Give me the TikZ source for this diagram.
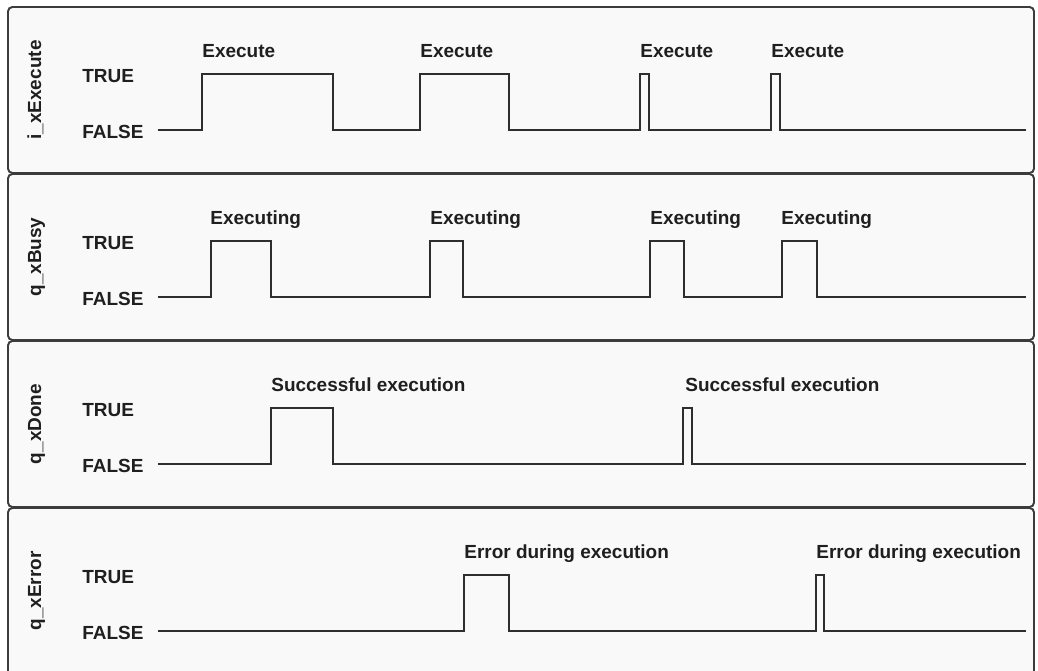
\documentclass[tikz,border=0pt]{standalone}
\usepackage{fontspec}
\setmainfont{Liberation Sans}
\usetikzlibrary{positioning}

\definecolor{frame}{HTML}{3C3C3C}
\definecolor{wave}{HTML}{2E2E2E}
\definecolor{panelbg}{HTML}{F9F9F9}

\tikzset{
  panel/.style={draw=frame,fill=panelbg,line width=1.1pt,rounded corners=2.5pt},
  sig/.style={draw=wave,line width=1.1pt},
  txt/.style={font=\bfseries\fontsize{10.8}{13}\selectfont,text=black!88,inner sep=0pt,anchor=base west},
  signame/.style={txt,rotate=90,anchor=base}
}

\begin{document}
\begin{tikzpicture}[x=0.02cm,y=-0.02cm]
  \useasboundingbox (0,0) rectangle (1038,670);
  \clip (0,0) rectangle (1038,670);

  % panels
  \draw[panel] (8,7) rectangle (1034,173);
  \draw[panel] (8,174) rectangle (1034,340);
  \draw[panel] (8,341) rectangle (1034,507);
  \draw[panel] (8,508) rectangle (1034,690);

  % signal names
  \node[signame] (nExec) at (41,90) {i\_xExecute};
  \node[signame] (nBusy) at (41,257) {q\_xBusy};
  \node[signame] (nDone) at (41,424) {q\_xDone};
  \node[signame] (nErr) at (41,591) {q\_xError};

  % levels
  \foreach \t/\k in {0/a,167/b,334/c,501/d}{
    \node[txt] (true\k) at (82,82+\t) {TRUE};
    \node[txt] (false\k) at (82,138+\t) {FALSE};
  }

  % i_xExecute
  \draw[sig] (158,130) \foreach \r/\f in {202/333,420/509,640/649,771/780}
    { -- (\r,130) -- (\r,74) -- (\f,74) -- (\f,130) } -- (1026,130);
  \foreach \r/\k in {202/1,420/2,640/3,771/4}
    \node[txt] (exec\k) at (\r,57) {Execute};

  % q_xBusy
  \draw[sig] (158,297) \foreach \r/\f in {211/271,430/463,650/684,782/817}
    { -- (\r,297) -- (\r,241) -- (\f,241) -- (\f,297) } -- (1026,297);
  \foreach \r/\k in {210/1,430/2,650/3,781/4}
    \node[txt] (busy\k) at (\r,224) {Executing};

  % q_xDone
  \draw[sig] (158,464) \foreach \r/\f in {271/333,683/692}
    { -- (\r,464) -- (\r,408) -- (\f,408) -- (\f,464) } -- (1026,464);
  \foreach \r/\k in {271/1,685/2}
    \node[txt] (done\k) at (\r,391) {Successful execution};

  % q_xError
  \draw[sig] (158,631) \foreach \r/\f in {464/509,816/824}
    { -- (\r,631) -- (\r,575) -- (\f,575) -- (\f,631) } -- (1026,631);
  \foreach \r/\k in {464/1,816/2}
    \node[txt] (err\k) at (\r,558) {Error during execution};
\end{tikzpicture}
\end{document}
